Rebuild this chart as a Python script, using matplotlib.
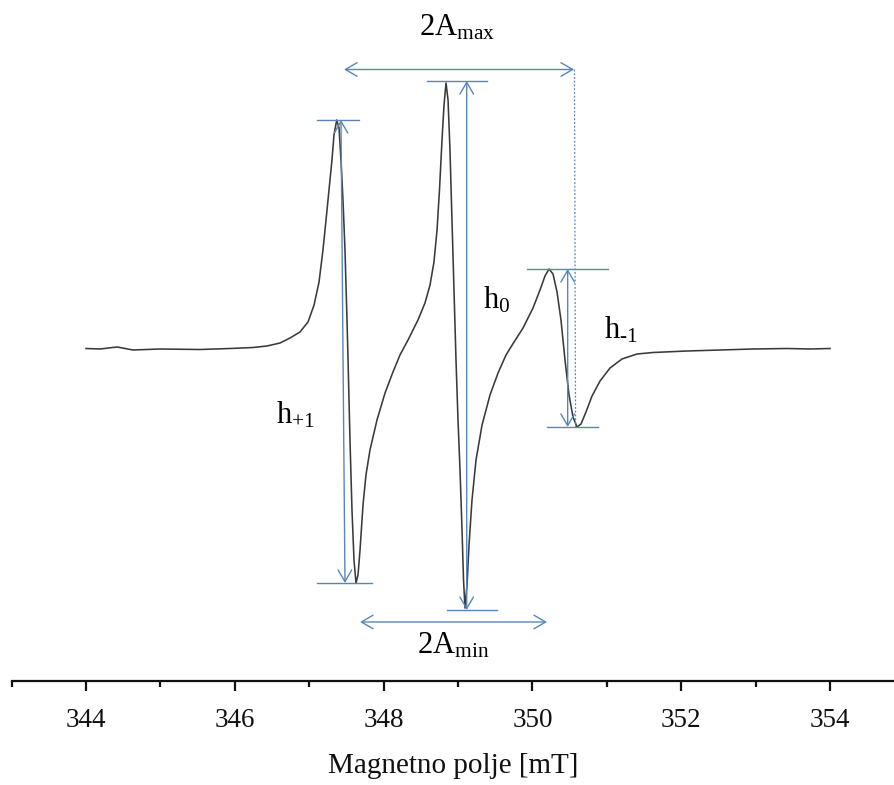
import numpy as np
import matplotlib
matplotlib.use('Agg')
import matplotlib.pyplot as plt

# ---- data (field in mT, signal in arbitrary units) ----
field_mT = [344.000, 344.188, 344.417, 344.632, 344.995, 345.532, 345.935, 346.245,
            346.433, 346.608, 346.742, 346.876, 346.984, 347.065, 347.132, 347.185,
            347.226, 347.266, 347.306, 347.333, 347.370, 347.401, 347.427, 347.454,
            347.481, 347.508, 347.522, 347.548, 347.575, 347.602, 347.629, 347.656,
            347.683, 347.723, 347.763, 347.817, 347.911, 348.019, 348.126, 348.220,
            348.328, 348.462, 348.556, 348.624, 348.677, 348.718, 348.751, 348.785,
            348.812, 348.839, 348.866, 348.892, 348.919, 348.946, 348.973, 349.000,
            349.027, 349.054, 349.074, 349.094, 349.121, 349.148, 349.188, 349.242,
            349.323, 349.430, 349.538, 349.645, 349.753, 349.874, 350.008, 350.102,
            350.169, 350.223, 350.277, 350.331, 350.384, 350.438, 350.492, 350.546,
            350.599, 350.653, 350.720, 350.801, 350.909, 351.043, 351.204, 351.406,
            351.621, 352.078, 352.522, 352.965, 353.422, 353.731, 354.000]
signal = [0.5, 0, 2, -1, 0, -0.5, 0.5, 1.5,
          3, 6, 11, 17, 27, 44, 67, 99,
          129, 159, 189, 214, 229, 221, 189, 149,
          99, 29, -11, -91, -161, -211, -234, -226,
          -201, -156, -126, -101, -71, -44, -23, -6,
          9, 29, 46, 64, 87, 119, 159, 209,
          244, 266, 249, 199, 129, 59, -11, -71,
          -121, -181, -231, -259, -236, -196, -151, -111,
          -76, -46, -24, -6, 7, 21, 41, 59,
          73, 80, 75, 57, 29, -11, -46, -68,
          -78, -75, -63, -47, -32, -19, -10, -5,
          -3.5, -2, -1, 0, 0.5, 0, 0.5]

major_ticks = [344, 346, 348, 350, 352, 354]
minor_ticks = [343, 345, 347, 349, 351, 353]
x_label = 'Magnetno polje [mT]'
label_amax = r'2A$_{\mathrm{max}}$'
label_amin = r'2A$_{\mathrm{min}}$'
label_hp1 = r'h$_{\mathrm{+1}}$'
label_h0 = r'h$_{\mathrm{0}}$'
label_hm1 = 'h$_{\\mathrm{\u20101}}$'

# ---- style ----
plt.rcParams['font.family'] = ['Liberation Serif', 'DejaVu Serif']
plt.rcParams['mathtext.fontset'] = 'custom'
plt.rcParams['mathtext.rm'] = 'Liberation Serif'
plt.rcParams['mathtext.it'] = 'Liberation Serif:italic'
plt.rcParams['mathtext.bf'] = 'Liberation Serif:bold'

BLUE = '#5a86b6'
CURVE = '#3a3a3a'

W, H = 894, 785
fig = plt.figure(figsize=(W / 100, H / 100), dpi=100)
ax = fig.add_axes([11.6 / W, 104 / H, (W - 11.6) / W, 681 / H])

x = np.asarray(field_mT)
y = np.asarray(signal)
ax.plot(x, y, color=CURVE, lw=1.15, solid_joinstyle='round')

ax.set_xlim(343, 354.86)
ax.set_ylim(-332, 349)

for s in ['left', 'right', 'top']:
    ax.spines[s].set_visible(False)
ax.spines['bottom'].set_linewidth(1.6)
ax.spines['bottom'].set_color('#111111')
ax.set_yticks([])
ax.set_xticks(major_ticks)
ax.set_xticks(minor_ticks, minor=True)
ax.tick_params(axis='x', which='major', direction='out', length=7.5, width=1.6,
               labelsize=19.5, pad=12, colors='#111111')
ax.tick_params(axis='x', which='minor', direction='out', length=4, width=1.6,
               colors='#111111')
ax.set_xlabel(x_label, fontsize=21, labelpad=14, color='#111111')

# extremes of each line, taken from the curve
def seg_ext(lo, hi):
    m = (x >= lo) & (x <= hi)
    return y[m].max(), y[m].min()

p1_max, p1_min = seg_ext(347.0, 347.9)
p0_max, p0_min = seg_ext(348.5, 349.3)
m1_max, m1_min = seg_ext(350.0, 350.9)

hl = dict(color=BLUE, lw=1.0)
# horizontal marker lines
ax.plot([347.105, 347.669], [p1_max, p1_max], **hl)
ax.plot([347.105, 347.844], [p1_min, p1_min], **hl)
ax.plot([348.583, 349.390], [p0_max + 2, p0_max + 2], **hl)
ax.plot([348.852, 349.524], [p0_min - 2, p0_min - 2], **hl)
ax.plot([349.927, 351.016], [m1_max, m1_max], **hl)
ax.plot([350.196, 350.882], [m1_min, m1_min], **hl)

arrow = dict(arrowstyle='<->,head_length=0.6,head_width=0.35', color=BLUE,
             lw=1.0, shrinkA=0, shrinkB=0, mutation_scale=14)

def dbl(x0, y0, x1, y1):
    ax.annotate('', xy=(x1, y1), xytext=(x0, y0), arrowprops=arrow)

dbl(347.427, p1_max, 347.481, p1_min)
dbl(349.117, p0_max + 2, 349.117, p0_min - 2)
dbl(350.474, m1_max, 350.474, m1_min)

# 2A_max and 2A_min
amax_y = 279.5
amin_y = -273
dbl(347.468, amax_y, 350.559, amax_y)
dbl(347.683, amin_y, 350.196, amin_y)
ax.plot([350.565, 350.580], [amax_y, m1_min], color=BLUE, lw=0.9,
        linestyle=(0, (1.5, 1.5)))

fs = 22
ax.text(348.987, 321, label_amax, fontsize=fs, ha='center', va='center')
ax.text(348.933, -297, label_amin, fontsize=fs, ha='center', va='center')
ax.text(346.81, -66, label_hp1, fontsize=fs, ha='center', va='center')
ax.text(349.524, 49, label_h0, fontsize=fs, ha='center', va='center')
ax.text(351.19, 19, label_hm1, fontsize=fs, ha='center', va='center')

fig.savefig('out.png', dpi=100, facecolor='white')
